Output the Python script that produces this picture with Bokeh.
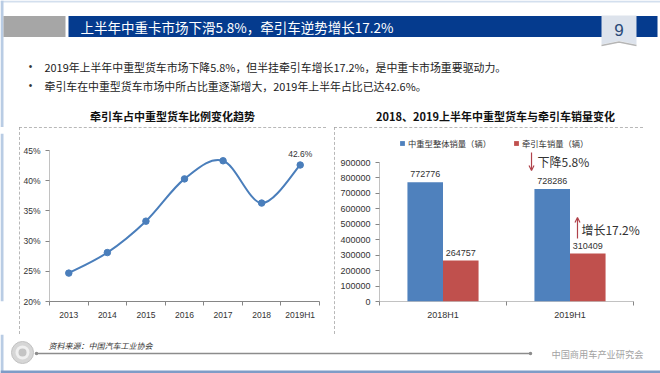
from bokeh.plotting import figure
from bokeh.models import (Range1d, FixedTicker, NumeralTickFormatter, Legend, LegendItem,
                          Label, Arrow, OpenHead, Spacer)
from bokeh.layouts import column, row
from bokeh.embed import file_html
from bokeh.resources import INLINE
from bokeh.core.properties import value

# ---------------- data ----------------
title_text = "上半年中重卡市场下滑5.8%，牵引车逆势增长17.2%"
page_no = "9"
bullets = ["2019年上半年中重型货车市场下降5.8%，但半挂牵引车增长17.2%，是中重卡市场重要驱动力。",
           "牵引车在中重型货车市场中所占比重逐渐增大，2019年上半年占比已达42.6%。"]

line_title = "牵引车占中重型货车比例变化趋势"
years = ["2013", "2014", "2015", "2016", "2017", "2018", "2019H1"]
share = [0.247, 0.281, 0.333, 0.403, 0.433, 0.363, 0.426]
share_ticks = [0.20, 0.25, 0.30, 0.35, 0.40, 0.45]
share_min, share_max = 0.20, 0.45

bar_title = "2018、2019上半年中重型货车与牵引车销量变化"
periods = ["2018H1", "2019H1"]
series_names = ["中重型整体销量（辆）", "牵引车销量（辆）"]
total_sales = [772776, 728286]
tractor_sales = [264757, 310409]
sales_ticks = [0, 100000, 200000, 300000, 400000, 500000, 600000, 700000, 800000, 900000]
sales_max = 900000
change_labels = ["下降5.8%", "增长17.2%"]

source_text = "资料来源：中国汽车工业协会"
org_text = "中国商用车产业研究会"

# ---------------- style ----------------
CJK = "Noto Sans CJK SC"
NUM = "Liberation Sans"
BLUE = "#4F81BD"
RED = "#C0504D"
AXIS = "#868686"
TXT = "#333333"
EDGE = "#b9cce4"
W = 660
HEAD_H, CHART_H, FOOT_H = 127, 207, 39
BOX = {"outline": "1px dashed #a0a0a0", "outline-offset": "-1px"}
FR_T, FR_B = 6, 174          # shared frame top / bottom (px) of both chart figures


def deco_fig(w, h):
    p = figure(width=w, height=h, x_range=Range1d(0, w), y_range=Range1d(h, 0),
               output_backend="svg", toolbar_location=None, min_border=0, title=None,
               x_axis_location=None, y_axis_location=None)
    p.grid.visible = False
    p.outline_line_color = None
    return p


# ---------------- header ----------------
head = deco_fig(W, HEAD_H)
head.quad(left=[0], right=[W], top=[0], bottom=[2], fill_color="#d3dfee", line_color=None)
head.quad(left=[0], right=[3], top=[0], bottom=[HEAD_H], fill_color=EDGE, line_color=None)
head.quad(left=[3], right=[65], top=[15.5], bottom=[36.5], fill_color="#a6a6a6", line_color=None)
head.quad(left=[68], right=[657], top=[15.5], bottom=[36.5], fill_color="#053b8e", line_color=None)
head.patch([601, 636, 636, 618.5, 601], [15, 15, 44, 40.5, 44], fill_color="#dde3ec", line_color=None)
head.line([601, 618.5, 636], [45, 41.5, 45], line_color="#b5b5b5", line_width=1.5)
head.text(x=[80], y=[26], text=[title_text], text_color="white", text_font=value(CJK),
          text_font_size="13.5px", text_baseline="middle")
head.text(x=[618.5], y=[29], text=[page_no], text_color="#2a4a78", text_font=value(NUM),
          text_font_size="17px", text_align="center", text_baseline="middle")
head.text(x=[30, 30], y=[66, 85], text=["•", "•"], text_color=TXT, text_font=value(NUM),
          text_font_size="10px", text_baseline="middle", text_align="center")
head.text(x=[44, 44], y=[66, 85], text=bullets, text_color="#222222", text_font=value(CJK),
          text_font_size="10.9px", text_baseline="middle")
head.text(x=[172, 495], y=[115, 115], text=[line_title, bar_title], text_color="#111111",
          text_font=value(CJK), text_font_size="11px", text_font_style="bold",
          text_align="center", text_baseline="middle")

# left slide edge beside the charts
edge = deco_fig(19, CHART_H)
edge.quad(left=[0], right=[3], top=[0], bottom=[CHART_H], fill_color=EDGE, line_color=None)


def style_axes(p, size):
    for ax in (p.xaxis[0], p.yaxis[0]):
        ax.axis_line_color = AXIS
        ax.major_tick_line_color = AXIS
        ax.minor_tick_line_color = AXIS
        ax.major_tick_out = 4
        ax.major_tick_in = 0
        ax.major_label_text_font = NUM
        ax.major_label_text_font_size = size
        ax.major_label_text_color = TXT
        ax.major_label_standoff = 5
    p.yaxis.minor_tick_line_color = None
    p.yaxis.axis_line_color = None
    p.xaxis.major_tick_out = 0
    p.xaxis.minor_tick_out = 4
    p.xaxis.minor_tick_in = 0
    p.xaxis.major_label_standoff = 4
    p.grid.visible = False
    p.outline_line_color = None


# ---------------- left chart: line ----------------
n = len(years)
xs = [i + 0.5 for i in range(n)]
L_TOP = 23                                   # px where the 45% end of the value axis sits
ly_end = share_min + (share_max - share_min) * (FR_B - FR_T) / (FR_B - L_TOP)
pl = figure(width=307, height=CHART_H, x_range=Range1d(0, n), y_range=Range1d(share_min, ly_end),
            output_backend="svg", toolbar_location=None, title=None,
            min_border_left=30, min_border_right=7, min_border_top=FR_T,
            min_border_bottom=CHART_H - FR_B)
pl.styles = BOX
pl.xaxis.ticker = FixedTicker(ticks=xs, minor_ticks=list(range(n + 1)))
pl.xaxis.major_label_overrides = {x: lab for x, lab in zip(xs, years)}
pl.yaxis.ticker = FixedTicker(ticks=share_ticks)
pl.yaxis.formatter = NumeralTickFormatter(format="0%")
style_axes(pl, "8.5px")
pl.segment(x0=[0], y0=[share_min], x1=[0], y1=[share_max], line_color=AXIS, line_width=1)

# smoothed line (cardinal spline rendered as bezier segments through the data points)
cx0, cy0, cx1, cy1 = [], [], [], []
for i in range(n - 1):
    a = i - 1 if i > 0 else i
    b = i + 2 if i + 2 < n else i + 1
    cx0.append(xs[i] + (xs[i + 1] - xs[a]) / 6)
    cy0.append(share[i] + (share[i + 1] - share[a]) / 6)
    cx1.append(xs[i + 1] - (xs[b] - xs[i]) / 6)
    cy1.append(share[i + 1] - (share[b] - share[i]) / 6)
pl.bezier(x0=xs[:-1], y0=share[:-1], x1=xs[1:], y1=share[1:],
          cx0=cx0, cy0=cy0, cx1=cx1, cy1=cy1, line_color="#4A7EBB", line_width=2)
pl.scatter(xs, share, size=6.5, marker="circle", fill_color="#4A7EBB", line_color="#4A7EBB")
pl.text(x=[xs[-1]], y=[share[-1]], text=[f"{share[-1] * 100:.1f}%"], y_offset=-6,
        text_align="center", text_baseline="bottom", text_font=value(NUM),
        text_font_size="8.5px", text_color=TXT)

# ---------------- right chart: bars ----------------
# frame is taller/wider than the value axis so that legend and notes above it are not clipped
m = len(periods)
bw = 0.28
xb = [i + 0.5 - bw / 2 for i in range(m)]
xr = [i + 0.5 + bw / 2 for i in range(m)]
FR_L, FR_R = 45, 307                          # frame left / right (px) inside the 309px figure
AX_R, AX_T = 299, 35                          # where the category axis ends / the value axis tops out
x_end = m * (FR_R - FR_L) / (AX_R - FR_L)
y_end = sales_max * (FR_B - FR_T) / (FR_B - AX_T)
pr = figure(width=309, height=CHART_H, x_range=Range1d(0, x_end), y_range=Range1d(0, y_end),
            output_backend="svg", toolbar_location=None, title=None,
            min_border_left=FR_L, min_border_right=309 - FR_R, min_border_top=FR_T,
            min_border_bottom=CHART_H - FR_B)
pr.styles = BOX
pr.xaxis.ticker = FixedTicker(ticks=[i + 0.5 for i in range(m)], minor_ticks=list(range(m + 1)))
pr.xaxis.major_label_overrides = {i + 0.5: lab for i, lab in enumerate(periods)}
pr.yaxis.ticker = FixedTicker(ticks=sales_ticks)
pr.yaxis.formatter = NumeralTickFormatter(format="0")
style_axes(pr, "9px")
pr.xaxis.axis_line_color = None
pr.segment(x0=[0, 0], y0=[0, 0], x1=[0, m], y1=[sales_max, 0], line_color=AXIS, line_width=1)

r1 = pr.vbar(x=xb, top=total_sales, width=bw, fill_color=BLUE, line_color=None)
r2 = pr.vbar(x=xr, top=tractor_sales, width=bw, fill_color=RED, line_color=None)
pr.text(x=xb, y=total_sales, text=[str(v) for v in total_sales], y_offset=-5,
        text_align="center", text_baseline="bottom", text_font=value(NUM),
        text_font_size="9px", text_color=TXT)
pr.text(x=xr, y=tractor_sales, text=[str(v) for v in tractor_sales], y_offset=-5,
        text_align="center", text_baseline="bottom", text_font=value(NUM),
        text_font_size="9px", text_color=TXT)

legend = Legend(items=[LegendItem(label=series_names[0], renderers=[r1]),
                       LegendItem(label=series_names[1], renderers=[r2])],
                location=(20, 152), orientation="horizontal", padding=0, margin=0,
                spacing=22, glyph_width=6, glyph_height=6, label_standoff=3,
                label_height=11, label_text_font=CJK, label_text_font_size="8.3px",
                label_text_color=TXT, border_line_color=None, background_fill_alpha=0)
pr.add_layout(legend)

ARROW_C = "#B0424A"
pr.add_layout(Arrow(end=OpenHead(size=5, line_color=ARROW_C, line_width=1.2),
                    x_start=1.197, y_start=965000, x_end=1.197, y_end=848000,
                    line_color=ARROW_C, line_width=1.2))
pr.add_layout(Label(x=1.245, y=906000, text=change_labels[0], text_baseline="middle",
                    text_font=CJK, text_font_size="12px", text_color=TXT))
pr.add_layout(Arrow(end=OpenHead(size=5, line_color=ARROW_C, line_width=1.2),
                    x_start=1.559, y_start=408000, x_end=1.559, y_end=544000,
                    line_color=ARROW_C, line_width=1.2))
pr.add_layout(Label(x=1.59, y=466000, text=change_labels[1], text_baseline="middle",
                    text_font=CJK, text_font_size="12px", text_color=TXT))

# ---------------- footer ----------------
foot = deco_fig(W, FOOT_H)
foot.quad(left=[0], right=[3], top=[0], bottom=[FOOT_H], fill_color=EDGE, line_color=None)
foot.quad(left=[0], right=[W], top=[36], bottom=[FOOT_H], fill_color="#7f9cc7", line_color=None)
foot.scatter([22], [18], size=22, marker="circle", fill_color="#d6d6d6", line_color="#c2c2c2")
foot.scatter([22], [18], size=14, marker="circle", fill_color="#f0f0f0", line_color=None)
foot.scatter([22], [18], size=8, marker="circle", fill_color="#c4c4c4", line_color=None)
foot.line([36, 530], [19, 19], line_color="#8c8c8c", line_width=1.5)
foot.scatter([36, 530], [19, 19], size=3.5, marker="circle", fill_color="#8c8c8c", line_color=None)
foot.text(x=[48], y=[11], text=[source_text], text_color=TXT, text_font=value(CJK),
          text_font_size="8px", text_font_style="italic", text_baseline="middle")
foot.text(x=[551], y=[19], text=[org_text], text_color="#a3a3a3", text_font=value(CJK),
          text_font_size="9.2px", text_baseline="middle")

layout = column(head,
                row(edge, pl, Spacer(width=8, height=CHART_H),
                    pr, Spacer(width=17, height=CHART_H)),
                foot)

open("out.html", "w").write(file_html(layout, INLINE))
